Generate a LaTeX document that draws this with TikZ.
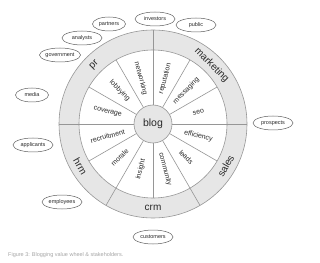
\documentclass[tikz,border=0pt]{standalone}
\usepackage{fontspec}
\setmainfont{Liberation Sans}
\usetikzlibrary{shapes.geometric}
\definecolor{RingGray}{RGB}{230,230,230}
\definecolor{LineGray}{RGB}{150,150,150}
\definecolor{TextGray}{RGB}{40,40,40}
\definecolor{CapGray}{RGB}{165,165,165}

\begin{document}
\begin{tikzpicture}[x=1pt,y=1pt,
    stake/.style={ellipse,draw=TextGray!75,line width=0.5pt,minimum width=40pt,minimum height=14pt,
      inner sep=0pt,text=TextGray,font=\fontsize{5.5}{6}\selectfont},
    inlabel/.style={text=TextGray,inner sep=0pt,font=\fontsize{7}{8}\selectfont},
    outlabel/.style={text=TextGray,inner sep=0pt,font=\fontsize{10}{12}\selectfont}]
  \useasboundingbox (0,0) rectangle (320,262);
  \coordinate (c) at (153,138);
  \begin{scope}[shift={(c)}]
    \filldraw[fill=RingGray,draw=LineGray,line width=0.6pt] (0,0) circle (94pt);
    \filldraw[fill=white,draw=LineGray,line width=0.6pt] (0,0) circle (74pt);
    % spokes inside, and the ones that cut the ring
    \foreach \a in {30,60,120,150,210,270,330}
      \draw[LineGray,line width=0.6pt] (\a:19pt) -- (\a:74pt);
    \foreach \a in {0,90,180,240,300}
      \draw[LineGray,line width=0.6pt] (\a:19pt) -- (\a:94pt);
    \node[circle,draw=LineGray,fill=RingGray,line width=0.6pt,minimum size=38pt,inner sep=0pt,
      text=TextGray,font=\fontsize{10.5}{12}\selectfont] (blog) at (0,0) {blog};
    % value labels
    \foreach \a/\t in {15/seo,45/messaging,75/reputation,-15/efficiency,-45/leads,-75/community}
      \node[inlabel,rotate=\a] (\t) at (\a:47pt) {\t};
    \foreach \a/\t in {105/networking,135/lobbying,165/coverage,195/recruitment,225/morale,255/insight}
      \node[inlabel,rotate=\a+180] (\t) at (\a:47pt) {\t};
    % ring labels
    \node[outlabel,rotate=45] (pr) at (135:83pt) {pr};
    \node[outlabel,rotate=-45] (marketing) at (45:83pt) {marketing};
    \node[outlabel,rotate=60] (sales) at (-30:84pt) {sales};
    \node[outlabel] (crm) at (-90:84pt) {crm};
    \node[outlabel,rotate=-60] (hrm) at (-150:84pt) {hrm};
  \end{scope}
  % stakeholders
  \node[stake,minimum width=33pt] (partners) at (109,238) {partners};
  \node[stake] (investors) at (155,243) {investors};
  \node[stake] (public) at (196,237) {public};
  \node[stake] (analysts) at (82,224) {analysts};
  \node[stake] (government) at (60,207) {government};
  \node[stake,minimum width=33pt] (media) at (32,167) {media};
  \node[stake] (applicants) at (33,117) {applicants};
  \node[stake] (employees) at (62,60) {employees};
  \node[stake] (prospects) at (273,139) {prospects};
  \node[stake] (customers) at (153,25) {customers};
  \node[anchor=west,text=CapGray,font=\fontsize{5.5}{6}\selectfont,inner sep=0pt] (caption) at (8,7)
    {Figure 3: Blogging value wheel \& stakeholders.};
\end{tikzpicture}
\end{document}
